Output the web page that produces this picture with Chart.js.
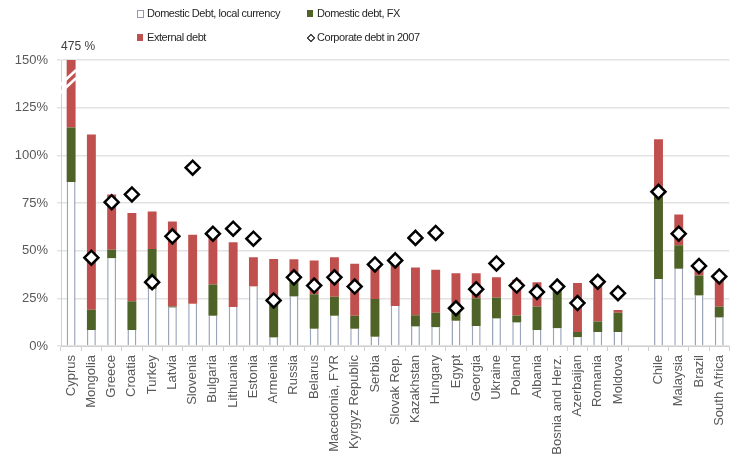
<!DOCTYPE html>
<html>
<head>
<meta charset="utf-8">
<script src="https://cdn.jsdelivr.net/npm/chart.js@4"></script>
<style>
  body { margin: 0; background: #fff; overflow: hidden; }
  #wrap { position: absolute; left: 0; top: 0; width: 739px; height: 457px; }
  .lg { position: absolute; font: 11px "Liberation Sans", Arial, sans-serif; letter-spacing: -0.45px; color: #262626; white-space: nowrap; }
  .sw { position: absolute; width: 6px; height: 7px; }
</style>
</head>
<body>
<div id="wrap"><canvas id="c"></canvas></div>

<!-- legend -->
<div class="sw" style="left:137px;top:10px;background:#fff;border:1px solid #8f9ab0;width:5px;height:6px"></div>
<div class="lg" style="left:147px;top:7px">Domestic Debt, local currency</div>
<div class="sw" style="left:307px;top:10px;background:#4f6228"></div>
<div class="lg" style="left:317px;top:7px">Domestic debt, FX</div>
<div class="sw" style="left:137px;top:34px;background:#c0504d"></div>
<div class="lg" style="left:147px;top:31px">External debt</div>
<div class="sw" style="left:308px;top:35px;width:4px;height:4px;border:1.5px solid #000;transform:rotate(45deg)"></div>
<div class="lg" style="left:317px;top:31px">Corporate debt in 2007</div>

<script>
// categories (empty slot separates the last four)
const countries = ['Cyprus', 'Mongolia', 'Greece', 'Croatia', 'Turkey', 'Latvia', 'Slovenia', 'Bulgaria',
  'Lithuania', 'Estonia', 'Armenia', 'Russia', 'Belarus', 'Macedonia, FYR', 'Kyrgyz Republic', 'Serbia',
  'Slovak Rep.', 'Kazakhstan', 'Hungary', 'Egypt', 'Georgia', 'Ukraine', 'Poland', 'Albania',
  'Bosnia and Herz.', 'Azerbaijan', 'Romania', 'Moldova', '', 'Chile', 'Malaysia', 'Brazil', 'South Africa'];

// % of GDP
const domesticLocal = [86, 8.4, 46, 8.4, 30, 20.2, 22.1, 15.8, 20.5, 31.2, 4.4, 26, 9, 15.8, 9, 4.9,
  21, 10.2, 9.8, 13.2, 10.5, 14.4, 12.3, 8.4, 9.3, 4.6, 7.4, 7.4, null, 35.1, 40.5, 26.5, 14.9];
const domesticFX = [28.6, 10.6, 4.5, 15.1, 20.9, 0.5, 0, 16.5, 0, 0, 18, 7.5, 18.2, 10, 6.8, 19.8,
  0, 5.9, 7.6, 4.5, 14.6, 11, 3.7, 12.3, 20.7, 2.8, 5.4, 10.1, null, 43.4, 12.3, 10.5, 5.8];
const externalDebt = [360.4, 91.9, 29, 46.3, 19.6, 44.6, 36.3, 24.9, 33.9, 15.3, 23.2, 12, 17.7, 20.7, 27.4, 16.5,
  22.1, 25.1, 22.6, 20.5, 13.1, 10.6, 18.7, 12.8, 1, 25.6, 19.2, 1.4, null, 29.9, 16.2, 7, 14.3];
const corporate2007 = [null, 46.3, 75.4, 79.5, 33.5, 57.5, 93.5, 58.9, 61.5, 56.3, 23.9, 36, 31.7, 36, 31.2, 42.8,
  44.9, 56.7, 59.3, 19.8, 29.8, 43.3, 31.7, 28.3, 31.2, 22.5, 33.7, 27.7, null, 80.9, 58.9, 42, 36.5];

const yTicks = [0, 25, 50, 75, 100, 125, 150];
const cyprusTotal = '475 %';

const txt = '#595959';
const font = { family: '"Liberation Sans", Arial, sans-serif', size: 13 };

// Cyprus bar is cut at the top: break marks + total label
const breakPlugin = {
  id: 'breakMarks',
  afterDatasetsDraw(chart) {
    const ctx = chart.ctx;
    const x = chart.scales.x.getPixelForValue(0);
    const y = chart.scales.y.getPixelForValue(139);
    ctx.save();
    ctx.strokeStyle = '#fff';
    ctx.lineWidth = 2.5;
    [-4, 4].forEach(d => {
      ctx.beginPath();
      ctx.moveTo(x - 11, y + d + 8);
      ctx.lineTo(x + 5, y + d - 7);
      ctx.stroke();
    });
    ctx.fillStyle = '#404040';
    ctx.font = '12px "Liberation Sans", Arial, sans-serif';
    ctx.textAlign = 'center';
    ctx.fillText(cyprusTotal, x + 7, chart.chartArea.top - 10);
    ctx.restore();
  }
};

new Chart(document.getElementById('c'), {
  data: {
    labels: countries,
    datasets: [
      {
        type: 'line', label: 'Corporate debt in 2007', data: corporate2007, stack: 'corp', order: 0,
        showLine: false, pointStyle: 'rectRot', pointRadius: 7, pointBorderWidth: 2.5,
        pointBorderColor: '#000', pointBackgroundColor: '#fff'
      },
      {
        type: 'bar', label: 'Domestic Debt, local currency', data: domesticLocal, stack: 'debt', order: 1,
        backgroundColor: '#fff', borderColor: '#9aa5bb',
        borderWidth: { left: 1.5, right: 1.5, top: 0, bottom: 0 }, borderSkipped: false
      },
      {
        type: 'bar', label: 'Domestic debt, FX', data: domesticFX, stack: 'debt', order: 1,
        backgroundColor: '#4f6228'
      },
      {
        type: 'bar', label: 'External debt', data: externalDebt, stack: 'debt', order: 1,
        backgroundColor: '#c0504d'
      }
    ]
  },
  options: {
    responsive: true,
    maintainAspectRatio: false,
    animation: false,
    layout: { padding: { top: 60, right: 0, left: 0, bottom: 0 } },
    datasets: { bar: { barPercentage: 0.44, categoryPercentage: 1 } },
    plugins: { legend: { display: false }, tooltip: { enabled: false } },
    scales: {
      x: {
        stacked: true,
        grid: { drawOnChartArea: false, tickLength: 5, color: '#d0d0d0', offset: true },
        border: { color: '#d0d0d0' },
        ticks: { color: txt, font: font, autoSkip: false, minRotation: 90, maxRotation: 90, padding: 4 },
        afterFit(s) { s.height = 111; }
      },
      y: {
        stacked: true,
        min: 0, max: 150,
        afterBuildTicks(s) { s.ticks = yTicks.map(v => ({ value: v })); },
        grid: { color: '#e3e3e3', lineWidth: 1.5, tickLength: 4 },
        border: { color: '#d0d0d0' },
        ticks: { color: txt, font: font, padding: 9, callback: v => v + '%' },
        afterFit(s) { s.width = 61; }
      }
    }
  },
  plugins: [breakPlugin]
});
</script>
</body>
</html>
